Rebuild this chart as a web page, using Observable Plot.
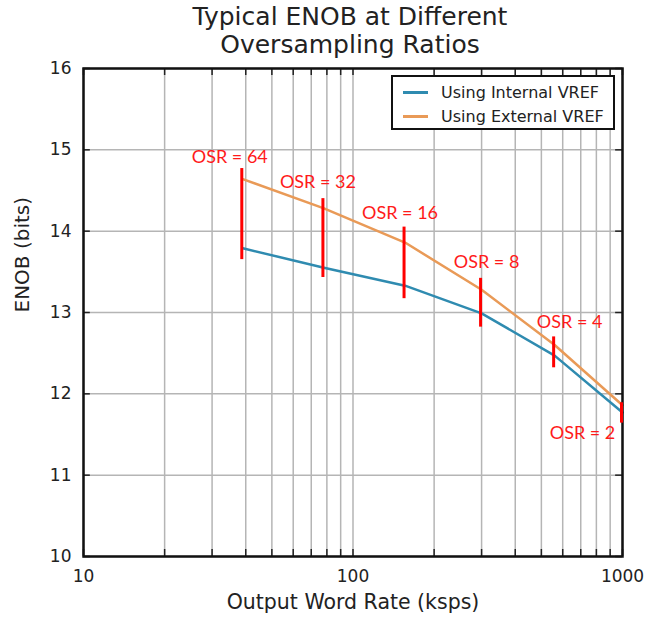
<!DOCTYPE html>
<html>
<head>
<meta charset="utf-8">
<script src="https://cdn.jsdelivr.net/npm/d3@7"></script>
<script src="https://cdn.jsdelivr.net/npm/@observablehq/plot@0.6"></script>
<style>
  html, body { margin: 0; padding: 0; background: #fff; }
  #wrap { position: relative; width: 647px; height: 625px; font-family: "DejaVu Sans", sans-serif; }
  #title { position: absolute; left: 0; top: 3px; width: 700px; text-align: center; font-size: 25px; line-height: 28px; color: #222; }
  #chart { position: absolute; left: 0; top: 60px; }
  #legend { position: absolute; left: 391px; top: 75px; width: 224px; height: 55px; border: 2px solid #111; background: #fff; box-sizing: border-box; font-size: 16px; color: #222; }
  .li { position: absolute; left: 10px; height: 22px; display: flex; align-items: center; white-space: nowrap; }
  .li span.sw { display: inline-block; width: 25px; height: 3px; margin-right: 13px; }
</style>
</head>
<body>
<div id="wrap">
  <div id="title">Typical ENOB at Different<br>Oversampling Ratios</div>
  <div id="chart"></div>
  <div id="legend">
    <div class="li" style="top:4px"><span class="sw" style="background:#2f8bb0"></span>Using Internal VREF</div>
    <div class="li" style="top:28px"><span class="sw" style="background:#e99a57"></span>Using External VREF</div>
  </div>
</div>
<script>
const rates = [39, 78, 156, 300, 560, 1000];
const internalVref = [13.79, 13.55, 13.33, 12.99, 12.47, 11.77];
const externalVref = [14.64, 14.28, 13.86, 13.28, 12.60, 11.86];
const osrLabels = ["OSR = 64", "OSR = 32", "OSR = 16", "OSR = 8", "OSR = 4", "OSR = 2"];
const barLow = [13.65, 13.43, 13.17, 12.82, 12.32, 11.64];
const barHigh = [14.77, 14.40, 14.05, 13.42, 12.70, 11.89];
const yTicks = [10, 11, 12, 13, 14, 15, 16];
const xTicks = [10, 100, 1000];
const xMinor = [20, 30, 40, 50, 60, 70, 80, 90, 200, 300, 400, 500, 600, 700, 800, 900];
const xLabel = "Output Word Rate (ksps)";
const yLabel = "ENOB (bits)";

const lineData = [
  ...rates.map((r, i) => ({rate: r, enob: internalVref[i], series: "Using Internal VREF"})),
  ...rates.map((r, i) => ({rate: r, enob: externalVref[i], series: "Using External VREF"}))
];
const bars = rates.map((r, i) => ({rate: r, lo: barLow[i], hi: barHigh[i], label: osrLabels[i]}));
const allX = [...xTicks, ...xMinor];

const labelOffsets = [[-13, -6, "bottom"], [-6, -11, "bottom"], [-5, -8, "bottom"], [5, -10, "bottom"], [15, -9, "bottom"], [-40, 3, "top"]];
const labelMarks = bars.map((b, i) => Plot.text([b], {
  x: "rate", y: labelOffsets[i][2] === "top" ? "lo" : "hi", text: "label",
  dx: labelOffsets[i][0], dy: labelOffsets[i][1], lineAnchor: labelOffsets[i][2],
  fill: "#ff1a1a", fontSize: 18, fontFamily: "Lato, 'Open Sans', sans-serif"
}));

const chart = Plot.plot({
  width: 647,
  height: 565,
  marginLeft: 83,
  marginRight: 25,
  marginTop: 8,
  marginBottom: 69,
  style: {background: "transparent", fontFamily: "DejaVu Sans, sans-serif", color: "#222", overflow: "visible"},
  x: {type: "log", domain: [10, 1000], ticks: xTicks, tickFormat: d => String(d), label: null},
  y: {domain: [10, 16], ticks: yTicks, tickFormat: d => String(d), label: null},
  color: {domain: ["Using Internal VREF", "Using External VREF"], range: ["#2f8bb0", "#e99a57"]},
  marks: [
    Plot.ruleX(allX, {stroke: "#b5b5b5", strokeWidth: 1.5}),
    Plot.ruleY(yTicks, {stroke: "#b5b5b5", strokeWidth: 1.5}),
    Plot.ruleX(allX, {stroke: "#222", strokeWidth: 1.5, insetTop: 481}),
    Plot.ruleX(allX, {stroke: "#222", strokeWidth: 1.5, insetBottom: 481}),
    Plot.ruleY(yTicks, {stroke: "#222", strokeWidth: 1.5, x1: 10, x2: 10.6}),
    Plot.ruleY(yTicks, {stroke: "#222", strokeWidth: 1.5, x1: 943, x2: 1000}),
    Plot.line(lineData, {x: "rate", y: "enob", z: "series", stroke: "series", strokeWidth: 2.5}),
    Plot.frame({stroke: "#111", strokeWidth: 2.5}),
    Plot.ruleX(bars, {x: "rate", y1: "lo", y2: "hi", stroke: "#ff0000", strokeWidth: 3, dx: -1}),
    ...labelMarks,
    Plot.axisY({ticks: yTicks, tickSize: 0, tickPadding: 12, fontSize: 17, tickFormat: d => String(d), label: null, fill: "#222"}),
    Plot.axisX({ticks: xTicks, tickSize: 0, tickPadding: 13, fontSize: 17, tickFormat: d => String(d), label: null, fill: "#222"}),
    Plot.text([xLabel], {frameAnchor: "bottom", dy: 52, fontSize: 20.5, fill: "#222"}),
    Plot.text([yLabel], {frameAnchor: "left", dx: -61, rotate: -90, fontSize: 20, fill: "#222"})
  ]
});
document.getElementById("chart").appendChild(chart);
</script>
</body>
</html>
